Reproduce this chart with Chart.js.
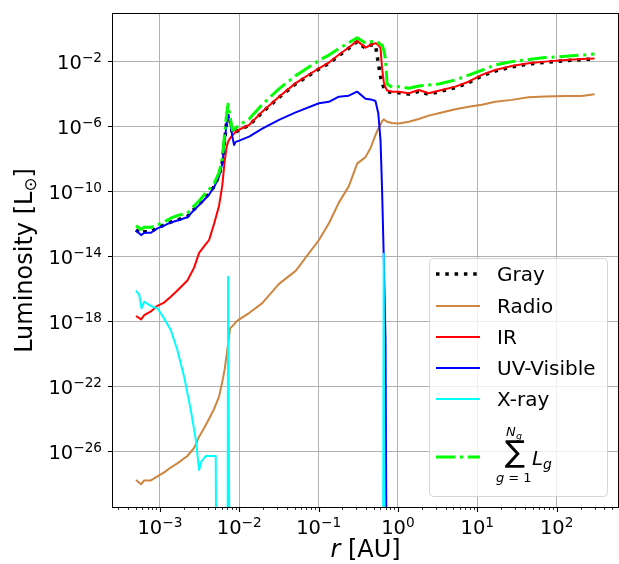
<!DOCTYPE html>
<html>
<head>
<meta charset="utf-8">
<script src="https://cdn.jsdelivr.net/npm/chart.js@4.4.1/dist/chart.umd.min.js"></script>
<style>
  html, body { margin: 0; padding: 0; background: #fff; }
  canvas { display: block; }
</style>
</head>
<body>
<canvas id="lumChart" width="619" height="564"></canvas>
<script>
// radius grid shared by the band curves [AU]
const r = [5.0e-4, 5.8e-4, 6.35e-4, 7.7e-4, 9.3e-4, 1.13e-3, 1.37e-3, 1.66e-3, 2.22e-3, 2.7e-3,
  3.12e-3, 3.6e-3, 4.17e-3, 4.82e-3, 5.57e-3, 6.13e-3, 6.53e-3, 6.92e-3, 7.23e-3, 7.66e-3,
  8.19e-3, 8.6e-3, 9.03e-3, 0.01, 0.0133, 0.0195, 0.0317, 0.0514, 0.101, 0.135,
  0.18, 0.24, 0.306, 0.39, 0.455, 0.521, 0.565, 0.603, 0.631, 0.662,
  0.696, 0.73, 0.843, 1.02, 1.37, 1.83, 2.44, 3.26, 5.29, 7.78,
  11.4, 16.8, 27.2, 44.2, 71.6, 128, 207, 300];

// luminosities [L_sun]; 1e-40 marks a band that has dropped to zero
const gray = [4.2e-13, 2.4e-13, 3.2e-13, 3.2e-13, 5.6e-13, 8.3e-13, 1.26e-12, 1.7e-12, 2.75e-12, 7.9e-12,
  1.6e-11, 3.2e-11, 7.1e-11, 2.0e-10, 8.9e-10, 6.3e-9, 1.26e-7, 1.6e-6, 5.6e-6, 2.2e-6,
  3.5e-7, 3.5e-7, 4.5e-7, 6.0e-7, 1.12e-6, 7.1e-6, 5.9e-5, 4.0e-4, 3.3e-3, 7.4e-3,
  2.2e-2, 6.3e-2, 0.16, 6.3e-2, 0.1, 0.1, 7.9e-3, 1.12e-3, 4.5e-4, 2.5e-4,
  1.6e-4, 1.35e-4, 1.2e-4, 1.17e-4, 9.5e-5, 1.4e-4, 9.3e-5, 1.3e-4, 2.4e-4, 4.8e-4,
  1.26e-3, 2.5e-3, 4.5e-3, 6.8e-3, 8.5e-3, 1.07e-2, 1.26e-2, 1.4e-2];

const radio = [1.7e-28, 9.3e-29, 1.6e-28, 1.6e-28, 2.8e-28, 5.0e-28, 1e-27, 1.8e-27, 5.1e-27, 1.6e-26,
  7.9e-26, 2.6e-25, 1e-24, 4.0e-24, 2.3e-23, 2.0e-22, 1e-21, 7.9e-21, 4.0e-20, 3.7e-19,
  5.0e-19, 6.3e-19, 8.9e-19, 1.3e-18, 3.2e-18, 1.3e-17, 2.0e-16, 1.26e-15, 1e-13, 1.07e-12,
  2.0e-11, 2.0e-10, 5.0e-9, 1.26e-8, 5.0e-8, 2.9e-7, 7.1e-7, 1.26e-6, 2.0e-6, 2.7e-6,
  2.2e-6, 1.9e-6, 1.6e-6, 1.5e-6, 1.9e-6, 2.8e-6, 4.5e-6, 6.3e-6, 1.12e-5, 1.6e-5,
  2.1e-5, 3.2e-5, 4.2e-5, 6.0e-5, 6.8e-5, 7.2e-5, 7.2e-5, 9.3e-5];

const ir = [2.1e-18, 1.3e-18, 2.4e-18, 4.0e-18, 8.9e-18, 1.4e-17, 3.2e-17, 7.9e-17, 3.2e-16, 2.0e-15,
  1.6e-14, 4.0e-14, 1e-13, 1e-12, 1.3e-11, 2.5e-10, 6.3e-9, 5.0e-8, 1.1e-7, 1.8e-7,
  2.8e-7, 3.5e-7, 4.7e-7, 6.3e-7, 1.2e-6, 7.9e-6, 6.6e-5, 4.5e-4, 3.7e-3, 8.3e-3,
  2.5e-2, 7.1e-2, 0.18, 6.9e-2, 0.1, 0.13, 0.1, 6.3e-2, 3.7e-3, 5.5e-4,
  2.5e-4, 1.6e-4, 1.35e-4, 1.35e-4, 1.07e-4, 1.7e-4, 1.07e-4, 1.55e-4, 2.75e-4, 5.5e-4,
  1.45e-3, 2.9e-3, 5.1e-3, 7.6e-3, 9.5e-3, 1.2e-2, 1.4e-2, 1.5e-2];

const uvVisible = [3.8e-13, 2.0e-13, 2.8e-13, 2.8e-13, 5.2e-13, 7.6e-13, 1.2e-12, 1.6e-12, 2.5e-12, 7.1e-12,
  1.4e-11, 2.9e-11, 6.3e-11, 1.8e-10, 7.9e-10, 5.2e-9, 1e-7, 1.3e-6, 5.0e-6, 2.0e-6,
  2.3e-7, 7.1e-8, 1.1e-7, 1.3e-7, 2.3e-7, 7.1e-7, 2.5e-6, 7.2e-6, 2.6e-5, 3.2e-5,
  6.6e-5, 7.6e-5, 1.35e-4, 5.0e-5, 4.5e-5, 3.6e-5, 6.3e-6, 1.4e-7, 1.2e-10, 1e-14,
  1e-19, 1e-40, null, null, null, null, null, null, null, null,
  null, null, null, null, null, null, null, null];

const sumBands = [7.4e-13, 4.6e-13, 6.0e-13, 6.0e-13, 8.5e-13, 1.3e-12, 2.2e-12, 3.2e-12, 4.5e-12, 1.26e-11,
  2.5e-11, 5.9e-11, 1.3e-10, 3.1e-10, 1.4e-9, 1.12e-8, 3.2e-7, 5.0e-6, 2.3e-5, 3.9e-6,
  5.9e-7, 6.3e-7, 7.9e-7, 1.2e-6, 2.8e-6, 2.2e-5, 2.0e-4, 1.3e-3, 1.12e-2, 2.4e-2,
  6.0e-2, 0.14, 0.28, 0.13, 0.16, 0.18, 0.14, 0.11, 0.1, 5.0e-2,
  1.4e-2, 4.0e-4, 2.5e-4, 2.75e-4, 2.2e-4, 3.0e-4, 3.5e-4, 4.0e-4, 7.1e-4, 1.4e-3,
  2.8e-3, 5.9e-3, 9.5e-3, 1.3e-2, 1.7e-2, 2.0e-2, 2.4e-2, 2.8e-2];

// X-ray is sampled on its own radii; null breaks the line where the flux is zero
const rXray = [5.0e-4, 5.5e-4, 5.86e-4, 6.35e-4, 7.33e-4, 8.47e-4, 9.3e-4, 1.13e-3, 1.37e-3, 1.66e-3,
  2.02e-3, 2.45e-3, 2.84e-3, 3.12e-3, 3.33e-3, 3.79e-3, 5.06e-3, 5.2e-3, 6.0e-3, 7.1e-3,
  7.23e-3, 7.66e-3, 0.1, 0.645, 0.662, 0.68];
const xray = [7.6e-17, 4.2e-17, 6.3e-18, 1.6e-17, 1e-17, 7.2e-18, 6.3e-18, 1.5e-18, 2.9e-19, 1.7e-20,
  3.9e-22, 3.5e-24, 5.0e-26, 7.1e-28, 2.3e-27, 5.1e-27, 5.1e-27, 1e-40, null, 1e-40,
  5.5e-16, 1e-40, null, 1e-40, 1.4e-14, 1e-40];

const xMajor = [1e-3, 1e-2, 1e-1, 1e0, 1e1, 1e2];
const yMajor = [1e-26, 1e-22, 1e-18, 1e-14, 1e-10, 1e-6, 1e-2];
const xMin = 2.565e-4, xMax = 593;
const yMin = 3.7e-30, yMax = 8.1;

const FONT = '"DejaVu Sans", sans-serif';
const TICK_FS = 19.5;

const series = [
  { label: 'Gray', x: r, y: gray, color: '#000000', width: 3.5, dash: [3.5, 5.8] },
  { label: 'Radio', x: r, y: radio, color: '#cd853f', width: 2, dash: [] },
  { label: 'IR', x: r, y: ir, color: '#ff0000', width: 2, dash: [] },
  { label: 'UV-Visible', x: r, y: uvVisible, color: '#0000ff', width: 2, dash: [] },
  { label: 'X-ray', x: rXray, y: xray, color: '#00ffff', width: 2, dash: [] },
  { label: 'sum', x: r, y: sumBands, color: '#00ff00', width: 3, dash: [19.2, 4.8, 3, 4.8] }
];

function pow10Label(ctx, v, x, y, align) {
  const e = Math.round(Math.log10(v));
  const sup = e < 0 ? '\u2212' + (-e) : String(e);
  ctx.font = TICK_FS + 'px ' + FONT;
  const wb = ctx.measureText('10').width;
  ctx.font = (TICK_FS * 0.7) + 'px ' + FONT;
  const ws = ctx.measureText(sup).width;
  const w = wb + ws;
  const x0 = align === 'center' ? x - w / 2 : x - w;
  ctx.textAlign = 'left';
  ctx.textBaseline = 'alphabetic';
  ctx.font = TICK_FS + 'px ' + FONT;
  ctx.fillText('10', x0, y);
  ctx.font = (TICK_FS * 0.7) + 'px ' + FONT;
  ctx.fillText(sup, x0 + wb, y - 7);
}

const decor = {
  id: 'decor',
  afterDatasetsDraw(chart) {
    const { ctx, chartArea: a, scales } = chart;
    const xs = scales.x, ys = scales.y;
    ctx.save();
    ctx.fillStyle = '#000';
    ctx.strokeStyle = '#000';

    // tick marks, outward
    ctx.lineWidth = 1.1;
    ctx.beginPath();
    xMajor.forEach(v => {
      const px = Math.round(xs.getPixelForValue(v)) + 0.5;
      ctx.moveTo(px, a.bottom); ctx.lineTo(px, a.bottom + 5);
    });
    yMajor.forEach(v => {
      const py = Math.round(ys.getPixelForValue(v)) + 0.5;
      ctx.moveTo(a.left, py); ctx.lineTo(a.left - 5, py);
    });
    ctx.stroke();
    ctx.lineWidth = 0.8;
    ctx.beginPath();
    for (let k = -4; k <= 2; k++) {
      for (let m = 2; m <= 9; m++) {
        const v = m * Math.pow(10, k);
        if (v < xMin || v > xMax) continue;
        const px = Math.round(xs.getPixelForValue(v)) + 0.5;
        ctx.moveTo(px, a.bottom); ctx.lineTo(px, a.bottom + 3);
      }
    }
    ctx.stroke();

    // frame
    ctx.lineWidth = 1;
    ctx.strokeRect(a.left - 0.5, a.top - 0.5, a.right - a.left + 1, a.bottom - a.top + 1);

    // tick labels
    xMajor.forEach(v => pow10Label(ctx, v, xs.getPixelForValue(v), a.bottom + 27, 'center'));
    yMajor.forEach(v => pow10Label(ctx, v, a.left - 11, ys.getPixelForValue(v) + 8, 'right'));

    // x axis title: r [AU]
    ctx.font = 'italic 24px ' + FONT;
    const wr = ctx.measureText('r').width;
    ctx.font = '24px ' + FONT;
    const wu = ctx.measureText(' [AU]').width;
    const cx = (a.left + a.right) / 2;
    let tx = cx - (wr + wu) / 2;
    ctx.textAlign = 'left';
    ctx.font = 'italic 24px ' + FONT;
    ctx.fillText('r', tx, 557);
    ctx.font = '24px ' + FONT;
    ctx.fillText(' [AU]', tx + wr, 557);

    // y axis title: Luminosity [L_sun]
    ctx.save();
    ctx.translate(32, (a.top + a.bottom) / 2);
    ctx.rotate(-Math.PI / 2);
    ctx.font = '24px ' + FONT;
    const w1 = ctx.measureText('Luminosity [L').width;
    const w3 = ctx.measureText(']').width;
    ctx.font = '16.8px ' + FONT;
    const w2 = ctx.measureText('\u2299').width;
    let ly = -(w1 + w2 + w3) / 2;
    ctx.font = '24px ' + FONT;
    ctx.fillText('Luminosity [L', ly, 0);
    ctx.font = '16.8px ' + FONT;
    ctx.fillText('\u2299', ly + w1, 4);
    ctx.font = '24px ' + FONT;
    ctx.fillText(']', ly + w1 + w2, 0);
    ctx.restore();

    // legend
    const bx = 429.5, by = 258.5, bw = 178, bh = 238, rad = 4;
    ctx.beginPath();
    ctx.moveTo(bx + rad, by);
    ctx.arcTo(bx + bw, by, bx + bw, by + bh, rad);
    ctx.arcTo(bx + bw, by + bh, bx, by + bh, rad);
    ctx.arcTo(bx, by + bh, bx, by, rad);
    ctx.arcTo(bx, by, bx + bw, by, rad);
    ctx.closePath();
    ctx.fillStyle = 'rgba(255,255,255,0.8)';
    ctx.fill();
    ctx.strokeStyle = 'rgba(204,204,204,0.8)';
    ctx.lineWidth = 1;
    ctx.stroke();

    const rows = [274, 306, 337, 368, 399, 457];
    series.forEach((s, i) => {
      const yy = rows[i];
      ctx.beginPath();
      ctx.setLineDash(s.dash);
      ctx.lineCap = 'butt';
      ctx.strokeStyle = s.color;
      ctx.lineWidth = s.width;
      ctx.moveTo(436, yy); ctx.lineTo(480, yy);
      ctx.stroke();
      ctx.setLineDash([]);
      ctx.fillStyle = '#000';
      if (s.label !== 'sum') {
        ctx.font = '20px ' + FONT;
        ctx.fillText(s.label, 497, yy + 7);
      }
    });

    // sum over groups: N_g above, g = 1 below, L_g to the right
    ctx.fillStyle = '#000';
    ctx.font = '30px ' + FONT;
    let m = ctx.measureText('\u2211');
    const fs = 30 * 28 / (m.actualBoundingBoxAscent + m.actualBoundingBoxDescent);
    ctx.font = fs + 'px ' + FONT;
    m = ctx.measureText('\u2211');
    ctx.fillText('\u2211', 505 + m.actualBoundingBoxLeft, 440 + m.actualBoundingBoxAscent);
    ctx.font = 'italic 13px ' + FONT;
    ctx.fillText('N', 506, 436);
    ctx.font = 'italic 9.5px ' + FONT;
    ctx.fillText('g', 516, 439);
    ctx.font = 'italic 13px ' + FONT;
    ctx.fillText('g', 496, 481.5);
    ctx.font = '13px ' + FONT;
    ctx.fillText(' = 1', 504, 481.5);
    ctx.font = 'italic 20px ' + FONT;
    ctx.fillText('L', 532, 465);
    ctx.font = 'italic 14px ' + FONT;
    ctx.fillText('g', 543, 469);

    ctx.restore();
  }
};

new Chart(document.getElementById('lumChart'), {
  type: 'line',
  data: {
    datasets: series.map((s, i) => ({
      label: s.label,
      data: s.x.map((x, j) => ({ x: x, y: s.y[j] })),
      borderColor: s.color,
      borderWidth: s.width,
      borderDash: s.dash,
      borderCapStyle: 'butt',
      borderJoinStyle: 'round',
      pointRadius: 0,
      tension: 0,
      fill: false,
      spanGaps: false,
      clip: 0,
      order: series.length - i
    }))
  },
  options: {
    responsive: false,
    animation: false,
    devicePixelRatio: 1,
    layout: { padding: { left: 113, top: 14, right: 1, bottom: 57 } },
    plugins: { legend: { display: false }, tooltip: { enabled: false }, title: { display: false } },
    events: [],
    scales: {
      x: {
        type: 'logarithmic',
        min: xMin, max: xMax,
        bounds: 'data',
        ticks: { display: false },
        border: { display: false },
        grid: { color: '#b0b0b0', lineWidth: 1, drawTicks: false },
        afterBuildTicks: s => { s.ticks = xMajor.map(v => ({ value: v })); },
        afterFit: s => { s.height = 0; }
      },
      y: {
        type: 'logarithmic',
        min: yMin, max: yMax,
        bounds: 'data',
        ticks: { display: false },
        border: { display: false },
        grid: { color: '#b0b0b0', lineWidth: 1, drawTicks: false },
        afterBuildTicks: s => { s.ticks = yMajor.map(v => ({ value: v })); },
        afterFit: s => { s.width = 0; }
      }
    }
  },
  plugins: [decor]
});
</script>
</body>
</html>
